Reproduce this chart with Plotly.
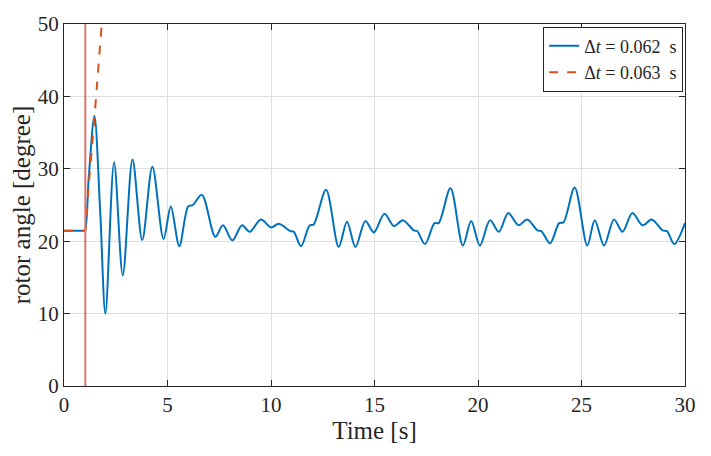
import plotly.graph_objects as go

# rotor angle response (time in s, angle in degree)
t_stable = [0, 0.98, 1.02, 1.2, 1.47, 1.75, 2.0, 2.42, 2.84, 3.31, 3.78, 4.27,
            4.81, 5.16, 5.57, 6.0, 6.22, 6.66, 7.31, 7.68, 8.13, 8.6, 8.97,
            9.51, 10.01, 10.37, 10.93, 11.1, 11.45, 11.87, 12.06, 12.66,
            13.27, 13.67, 14.08, 14.56, 14.97, 15.48, 15.94, 16.37, 16.9,
            17.06, 17.44, 17.9, 18.1, 18.67, 19.27, 19.67, 20.09, 20.58,
            21.01, 21.46, 21.95, 22.38, 22.87, 23.06, 23.48, 23.92, 24.13,
            24.67, 25.28, 25.64, 26.09, 26.57, 26.98, 27.46, 27.95, 28.39,
            28.92, 29.13, 29.48, 30.0]
angle_stable = [21.44, 21.44, 21.44, 29.0, 37.3, 24.0, 10.0, 30.9, 15.3, 31.3,
                20.15, 30.3, 20.3, 24.8, 19.3, 24.8, 25.0, 26.4, 20.6, 22.2,
                20.1, 22.2, 21.3, 23.0, 21.9, 22.4, 21.4, 21.3, 19.3, 22.2,
                22.3, 27.1, 19.2, 22.7, 19.2, 22.8, 21.2, 23.8, 22.1, 22.9,
                21.5, 21.4, 19.6, 22.5, 22.5, 27.3, 19.4, 22.8, 19.4, 22.9,
                21.3, 23.9, 22.2, 23.0, 21.5, 21.4, 19.7, 22.5, 22.6, 27.4,
                19.4, 22.9, 19.4, 23.0, 21.3, 23.9, 22.2, 23.0, 21.5, 21.4,
                19.6, 22.5]

t_unstable = [0, 0.98, 1.02, 1.2, 1.4, 1.6, 1.85]
angle_unstable = [21.44, 21.44, 21.44, 28.0, 34.6, 41.8, 51.0]

fault_time = 1.03
y_limits = [0, 50]

serif = "Liberation Serif"
axis_col = "#262626"

fig = go.Figure()

fig.add_trace(go.Scatter(
    x=t_stable, y=angle_stable, mode="lines",
    line=dict(color="#0072BD", width=2, shape="spline", smoothing=0.9),
    name="\u0394<i>t</i> = 0.062\u00a0\u00a0s"))

fig.add_trace(go.Scatter(
    x=t_unstable, y=angle_unstable, mode="lines",
    line=dict(color="#D95319", width=2, dash="dash", shape="spline", smoothing=0.5),
    name="\u0394<i>t</i> = 0.063\u00a0\u00a0s"))

# fault instant
fig.add_trace(go.Scatter(
    x=[fault_time, fault_time], y=y_limits, mode="lines",
    line=dict(color="#d8766f", width=2),
    showlegend=False, hoverinfo="skip"))

# page body adds an 8px offset, so the figure is a little smaller than the window
fig.update_layout(
    width=703, height=448,
    margin=dict(l=56, r=26, t=16, b=70),
    paper_bgcolor="white", plot_bgcolor="white",
    font=dict(family=serif, size=21, color=axis_col),
    xaxis=dict(
        range=[0, 30], tickvals=[0, 5, 10, 15, 20, 25, 30],
        showline=True, linecolor=axis_col, linewidth=1, mirror="ticks",
        ticks="inside", ticklen=6, tickcolor=axis_col,
        showgrid=True, gridcolor="#dedede", zeroline=False,
        automargin=False,
        title=dict(text="Time [s]", standoff=4)),
    yaxis=dict(
        range=y_limits, tickvals=[0, 10, 20, 30, 40, 50],
        showline=True, linecolor=axis_col, linewidth=1, mirror="ticks",
        ticks="inside", ticklen=6, tickcolor=axis_col,
        showgrid=True, gridcolor="#dedede", zeroline=False,
        automargin=False,
        title=dict(text="rotor angle [degree]", standoff=0)),
    legend=dict(
        x=0.997, y=0.993, xanchor="right", yanchor="top",
        bgcolor="white", bordercolor=axis_col, borderwidth=1,
        font=dict(family=serif, size=18), itemwidth=30,
        tracegroupgap=0),
    showlegend=True,
)

fig.write_html("out.html")
